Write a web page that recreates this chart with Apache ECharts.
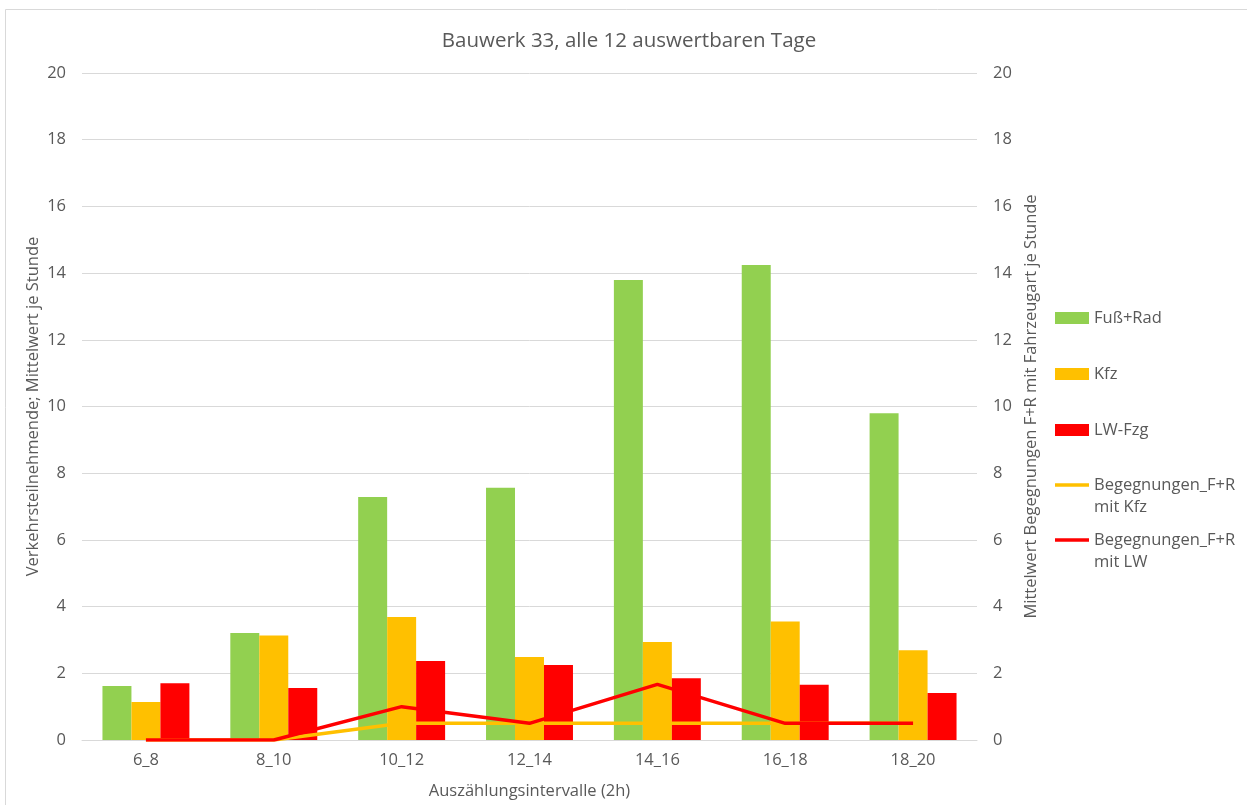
<!DOCTYPE html>
<html>
<head>
<meta charset="utf-8">
<script src="https://cdn.jsdelivr.net/npm/echarts@6/dist/echarts.min.js"></script>
<style>
  html, body { margin: 0; padding: 0; background: #ffffff; overflow: hidden; }
  #chart { width: 1247px; height: 805px; }
</style>
</head>
<body>
<div id="chart"></div>
<script>
// Counting intervals (2h)
const categories = ['6_8', '8_10', '10_12', '12_14', '14_16', '16_18', '18_20'];

// Mean road users per hour (left axis)
const fussRad = [1.62, 3.21, 7.29, 7.56, 13.79, 14.24, 9.80];
const kfz     = [1.14, 3.13, 3.69, 2.49, 2.94, 3.55, 2.69];
const lwFzg   = [1.70, 1.56, 2.37, 2.25, 1.85, 1.66, 1.41];

// Mean encounters per hour (right axis)
const begKfz = [0, 0, 0.5, 0.5, 0.5, 0.5, 0.5];
const begLw  = [0, 0, 1.0, 0.5, 1.67, 0.5, 0.5];

const axisTicks = [0, 2, 4, 6, 8, 10, 12, 14, 16, 18, 20];

const FONT = '"Open Sans", "Noto Sans", sans-serif';
const TXT = '#595959';
const GRID = '#d9d9d9';
const FS = 16.5;

const chart = echarts.init(document.getElementById('chart'));

function valueAxis(name, pos, nameGap) {
  return {
    type: 'value',
    position: pos,
    min: axisTicks[0],
    max: axisTicks[axisTicks.length - 1],
    interval: axisTicks[1] - axisTicks[0],
    name: name,
    nameLocation: 'middle',
    nameGap: nameGap,
    nameMoveOverlap: false,
    nameTextStyle: { color: TXT, fontSize: FS, fontFamily: FONT },
    axisLine: { show: false },
    axisTick: { show: false },
    axisLabel: { color: TXT, fontSize: FS, fontFamily: FONT, margin: 16 },
    splitLine: { show: pos === 'left', lineStyle: { color: GRID, width: 1 } }
  };
}

// One legend block per entry so each row sits at its own height;
// two-line entries keep the key aligned with their first text line.
function legendItem(name, top, isLine) {
  return {
    left: 1050,
    top: top,
    orient: 'vertical',
    itemWidth: 34,
    itemHeight: isLine ? 3.5 : 12,
    icon: 'rect',
    selectedMode: false,
    data: [name],
    formatter: n => n.indexOf(' mit ') >= 0 ? ' \n' + n.replace(' mit ', '\nmit ') : n,
    textStyle: { color: TXT, fontSize: FS, fontFamily: FONT, lineHeight: 22 }
  };
}

chart.setOption({
  animation: false,
  backgroundColor: '#ffffff',
  title: {
    text: 'Bauwerk 33, alle 12 auswertbaren Tage',
    left: 624,
    top: 26,
    textAlign: 'center',
    textStyle: { color: TXT, fontSize: 20.5, fontWeight: 'normal', fontFamily: FONT }
  },
  graphic: [{
    type: 'rect',
    shape: { x: 5.5, y: 9.5, width: 1300, height: 900 },
    style: { fill: 'none', stroke: GRID, lineWidth: 1 },
    silent: true,
    z: -10
  }],
  legend: [
    legendItem('Fuß+Rad', 302, false),
    legendItem('Kfz', 358, false),
    legendItem('LW-Fzg', 414, false),
    legendItem('Begegnungen_F+R mit Kfz', 447, true),
    legendItem('Begegnungen_F+R mit LW', 502, true)
  ],
  grid: { left: 82, right: 270, top: 73, bottom: 65, outerBoundsMode: 'none' },
  xAxis: {
    type: 'category',
    data: categories,
    name: 'Auszählungsintervalle (2h)',
    nameLocation: 'middle',
    nameGap: 43,
    nameTextStyle: { color: TXT, fontSize: FS, fontFamily: FONT },
    axisLine: { lineStyle: { color: GRID, width: 1 } },
    axisTick: { show: false },
    axisLabel: { color: TXT, fontSize: FS, fontFamily: FONT, margin: 12 }
  },
  yAxis: [
    valueAxis('Verkehrsteilnehmende; Mittelwert je Stunde', 'left', 40),
    valueAxis('Mittelwert Begegnungen F+R mit Fahrzeugart je Stunde', 'right', 46)
  ],
  series: [
    { name: 'Fuß+Rad', type: 'bar', data: fussRad, yAxisIndex: 0,
      itemStyle: { color: '#92d050' }, barGap: '0%', barCategoryGap: '32%' },
    { name: 'Kfz', type: 'bar', data: kfz, yAxisIndex: 0,
      itemStyle: { color: '#ffc000' }, barGap: '0%', barCategoryGap: '32%' },
    { name: 'LW-Fzg', type: 'bar', data: lwFzg, yAxisIndex: 0,
      itemStyle: { color: '#ff0000' }, barGap: '0%', barCategoryGap: '32%' },
    { name: 'Begegnungen_F+R mit Kfz', type: 'line', data: begKfz, yAxisIndex: 1,
      symbol: 'none', z: 5,
      lineStyle: { color: '#ffc000', width: 3.5 }, itemStyle: { color: '#ffc000' } },
    { name: 'Begegnungen_F+R mit LW', type: 'line', data: begLw, yAxisIndex: 1,
      symbol: 'none', z: 6,
      lineStyle: { color: '#ff0000', width: 3.5 }, itemStyle: { color: '#ff0000' } }
  ]
});
</script>
</body>
</html>
